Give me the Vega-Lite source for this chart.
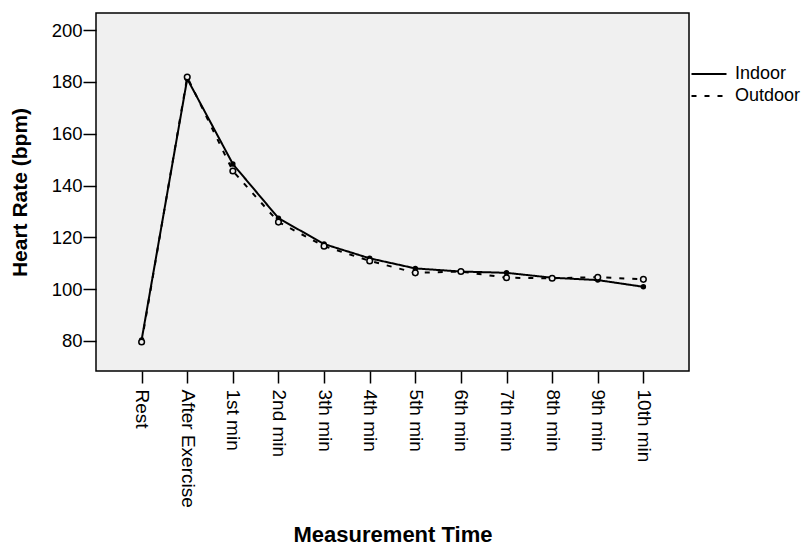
{
  "$schema": "https://vega.github.io/schema/vega-lite/v6.json",
  "autosize": {"type": "none"},
  "padding": {"left": 96, "top": 13, "right": 115, "bottom": 174},
  "width": 593,
  "height": 358,
  "background": "white",
  "config": {
    "font": "Liberation Sans",
    "view": {"fill": "#f0f0f0", "stroke": "black", "strokeWidth": 1.5}
  },
  "data": {
    "values": [
      {"time": "Rest", "group": "Indoor", "hr": 80.4},
      {"time": "After Exercise", "group": "Indoor", "hr": 181.2},
      {"time": "1st min", "group": "Indoor", "hr": 148.3},
      {"time": "2nd min", "group": "Indoor", "hr": 127.4},
      {"time": "3th min", "group": "Indoor", "hr": 117.4},
      {"time": "4th min", "group": "Indoor", "hr": 111.9},
      {"time": "5th min", "group": "Indoor", "hr": 108.0},
      {"time": "6th min", "group": "Indoor", "hr": 106.8},
      {"time": "7th min", "group": "Indoor", "hr": 106.3},
      {"time": "8th min", "group": "Indoor", "hr": 104.4},
      {"time": "9th min", "group": "Indoor", "hr": 103.5},
      {"time": "10th min", "group": "Indoor", "hr": 100.9},
      {"time": "Rest", "group": "Outdoor", "hr": 79.6},
      {"time": "After Exercise", "group": "Outdoor", "hr": 181.9},
      {"time": "1st min", "group": "Outdoor", "hr": 145.6},
      {"time": "2nd min", "group": "Outdoor", "hr": 125.9},
      {"time": "3th min", "group": "Outdoor", "hr": 116.6},
      {"time": "4th min", "group": "Outdoor", "hr": 110.9},
      {"time": "5th min", "group": "Outdoor", "hr": 106.3},
      {"time": "6th min", "group": "Outdoor", "hr": 106.8},
      {"time": "7th min", "group": "Outdoor", "hr": 104.4},
      {"time": "8th min", "group": "Outdoor", "hr": 104.2},
      {"time": "9th min", "group": "Outdoor", "hr": 104.6},
      {"time": "10th min", "group": "Outdoor", "hr": 103.8}
    ]
  },
  "encoding": {
    "x": {
      "field": "time",
      "type": "nominal",
      "sort": ["Rest", "After Exercise", "1st min", "2nd min", "3th min", "4th min", "5th min", "6th min", "7th min", "8th min", "9th min", "10th min"],
      "scale": {"type": "point", "padding": 1.17},
      "axis": {
        "title": "Measurement Time",
        "titleFontSize": 22,
        "titleFontWeight": "bold",
        "titleColor": "black",
        "titlePadding": 17,
        "labelAngle": 90,
        "labelAlign": "left",
        "labelBaseline": "middle",
        "labelFontSize": 19,
        "labelColor": "black",
        "labelPadding": 6,
        "tickSize": 12,
        "tickColor": "black",
        "tickWidth": 1.5,
        "domain": false,
        "grid": false
      }
    },
    "y": {
      "field": "hr",
      "type": "quantitative",
      "scale": {"domain": [68.4, 206.6], "nice": false, "zero": false},
      "axis": {
        "title": "Heart Rate (bpm)",
        "titleFontSize": 21,
        "titleFontWeight": "bold",
        "titleColor": "black",
        "titlePadding": 21,
        "values": [80, 100, 120, 140, 160, 180, 200],
        "labelFontSize": 18.5,
        "labelColor": "black",
        "labelPadding": 1,
        "tickSize": 13,
        "tickColor": "black",
        "tickWidth": 1.5,
        "domain": false,
        "grid": false
      }
    }
  },
  "layer": [
    {
      "mark": {"type": "line", "color": "black", "strokeWidth": 2},
      "encoding": {
        "strokeDash": {
          "field": "group",
          "type": "nominal",
          "scale": {"domain": ["Indoor", "Outdoor"], "range": [[1, 0], [5, 8]]},
          "legend": {
            "title": null,
            "orient": "none",
            "legendX": 604,
            "legendY": 52,
            "symbolType": "M-5,0H5",
            "symbolSize": 49,
            "symbolStrokeColor": "black",
            "symbolStrokeWidth": 2,
            "labelFontSize": 18,
            "labelColor": "black",
            "labelOffset": 17,
            "rowPadding": 4,
            "padding": 0
          }
        }
      }
    },
    {
      "transform": [{"filter": "datum.group === 'Indoor'"}],
      "mark": {"type": "point", "shape": "circle", "filled": true, "color": "black", "size": 30, "opacity": 1}
    },
    {
      "transform": [{"filter": "datum.group === 'Outdoor'"}],
      "mark": {"type": "point", "shape": "circle", "filled": false, "fill": "#f0f0f0", "fillOpacity": 1, "stroke": "black", "strokeWidth": 1.5, "size": 32, "opacity": 1}
    }
  ]
}
